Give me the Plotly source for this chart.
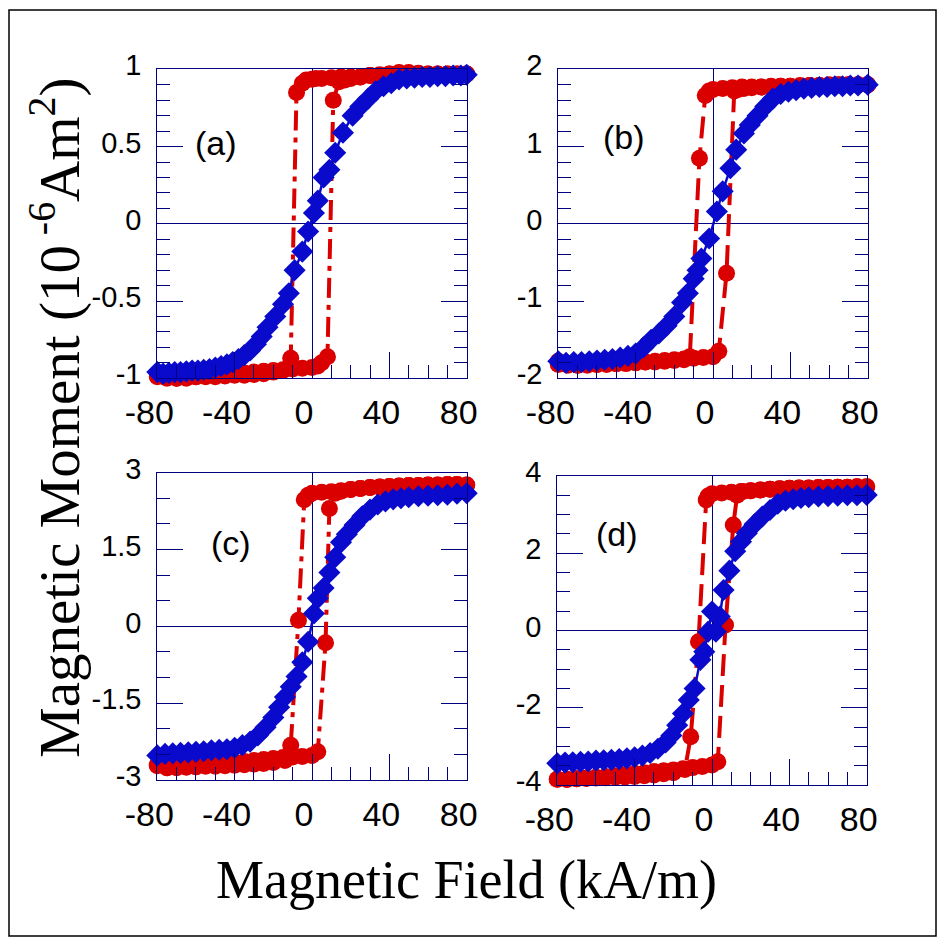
import plotly.graph_objects as go

# ---------------- data (kA/m, 1e-6 A m^2) ----------------
# panel (a)
a_red_desc_x = [80, 75, 70, 65, 60, 55, 50, 45, 40, 35, 30, 25, 20, 15, 10, 5, 2, 0, -3, -5, -8, -11, -15, -20, -25, -30, -35, -40, -45, -50, -55, -60, -65, -70, -75, -80]
a_red_desc_y = [0.97, 0.97, 0.97, 0.97, 0.97, 0.97, 0.975, 0.98, 0.97, 0.96, 0.96, 0.95, 0.95, 0.95, 0.945, 0.94, 0.94, 0.935, 0.93, 0.91, 0.85, -0.87, -0.95, -0.96, -0.97, -0.975, -0.98, -0.98, -0.985, -0.99, -0.99, -0.99, -0.995, -1.0, -1.0, -0.99]
a_red_asc_x = [-80, -75, -70, -65, -60, -55, -50, -45, -40, -35, -30, -25, -20, -15, -10, -5, 0, 3, 5, 8, 11, 14, 17, 20, 25, 30, 35, 40, 45, 50, 55, 60, 65, 70, 75, 80]
a_red_asc_y = [-0.97, -0.99, -1.0, -1.0, -0.99, -0.985, -0.98, -0.975, -0.97, -0.965, -0.96, -0.955, -0.95, -0.945, -0.94, -0.935, -0.93, -0.92, -0.9, -0.86, 0.8, 0.92, 0.93, 0.94, 0.95, 0.96, 0.965, 0.97, 0.975, 0.98, 0.975, 0.97, 0.97, 0.97, 0.97, 0.97]
a_blue_x = [-80, -77, -74, -71, -68, -65, -62, -59, -56, -53, -50, -47, -44, -41, -38, -35, -32, -29, -26, -23, -19, -15, -12, -9, -5, -2, 1, 3, 6, 9, 12, 16, 21, 25, 29, 33, 37, 41, 45, 49, 53, 57, 61, 65, 69, 73, 77, 80]
a_blue_y = [-0.96, -0.97, -0.965, -0.96, -0.96, -0.955, -0.95, -0.95, -0.945, -0.94, -0.93, -0.92, -0.91, -0.895, -0.875, -0.85, -0.82, -0.78, -0.73, -0.67, -0.6, -0.52, -0.45, -0.3, -0.18, -0.05, 0.07, 0.15, 0.3, 0.35, 0.46, 0.59, 0.7, 0.76, 0.81, 0.86, 0.89, 0.91, 0.935, 0.94, 0.945, 0.95, 0.95, 0.955, 0.955, 0.96, 0.96, 0.965]

# panel (b)
b_red_desc_x = [80, 75, 70, 65, 60, 55, 50, 45, 40, 35, 30, 25, 20, 15, 10, 5, 0, -2, -4, -7, -12, -15, -20, -25, -30, -35, -40, -45, -50, -55, -60, -65, -70, -75, -80]
b_red_desc_y = [1.8, 1.8, 1.8, 1.8, 1.79, 1.79, 1.79, 1.78, 1.78, 1.78, 1.78, 1.77, 1.77, 1.77, 1.76, 1.75, 1.74, 1.72, 1.66, 0.85, -1.72, -1.76, -1.77, -1.78, -1.79, -1.79, -1.8, -1.8, -1.81, -1.81, -1.82, -1.82, -1.83, -1.83, -1.82]
b_red_asc_x = [-80, -75, -70, -65, -60, -55, -50, -45, -40, -35, -30, -25, -20, -15, -10, -5, 0, 3, 7, 11, 13, 16, 20, 25, 30, 35, 40, 45, 50, 55, 60, 65, 70, 75, 80]
b_red_asc_y = [-1.78, -1.82, -1.83, -1.83, -1.82, -1.82, -1.81, -1.81, -1.8, -1.79, -1.78, -1.77, -1.76, -1.75, -1.74, -1.73, -1.72, -1.65, -0.64, 1.72, 1.74, 1.75, 1.76, 1.77, 1.77, 1.78, 1.78, 1.79, 1.79, 1.79, 1.8, 1.8, 1.8, 1.8, 1.8]
b_blue_x = [-80, -76, -72, -68, -64, -60, -56, -52, -48, -44, -40, -36, -32, -28, -24, -20, -16, -13, -10, -8, -6, -2, 2, 5, 9, 12, 16, 19, 23, 27, 31, 35, 39, 43, 47, 51, 55, 59, 63, 67, 71, 75, 80]
b_blue_y = [-1.78, -1.8, -1.79, -1.79, -1.78, -1.77, -1.76, -1.75, -1.73, -1.71, -1.68, -1.6, -1.5, -1.42, -1.32, -1.2, -1.02, -0.9, -0.71, -0.6, -0.45, -0.19, 0.16, 0.42, 0.72, 0.96, 1.17, 1.28, 1.4, 1.52, 1.62, 1.68, 1.71, 1.73, 1.75, 1.76, 1.77, 1.77, 1.78, 1.78, 1.79, 1.79, 1.8]

# panel (c)
c_red_desc_x = [80, 75, 70, 65, 60, 55, 50, 45, 40, 35, 30, 25, 20, 15, 10, 5, 0, -2, -4, -7, -11, -14, -20, -25, -30, -35, -40, -45, -50, -55, -60, -65, -70, -75, -80]
c_red_desc_y = [2.76, 2.77, 2.77, 2.76, 2.76, 2.75, 2.75, 2.74, 2.73, 2.72, 2.71, 2.69, 2.67, 2.65, 2.63, 2.62, 2.6, 2.56, 2.47, 0.12, -2.32, -2.62, -2.66, -2.68, -2.69, -2.7, -2.71, -2.72, -2.73, -2.73, -2.74, -2.74, -2.75, -2.76, -2.72]
c_red_asc_x = [-80, -75, -70, -65, -60, -55, -50, -45, -40, -35, -30, -25, -20, -15, -10, -5, 0, 3, 7, 9, 12, 15, 20, 25, 30, 35, 40, 45, 50, 55, 60, 65, 70, 75, 80]
c_red_asc_y = [-2.7, -2.76, -2.76, -2.75, -2.74, -2.72, -2.7, -2.68, -2.66, -2.64, -2.62, -2.6, -2.58, -2.56, -2.55, -2.54, -2.52, -2.45, -0.32, 2.3, 2.6, 2.64, 2.67, 2.69, 2.71, 2.72, 2.73, 2.74, 2.75, 2.75, 2.76, 2.76, 2.77, 2.77, 2.76]
c_blue_x = [-80, -76, -72, -68, -64, -60, -56, -52, -48, -44, -40, -36, -32, -28, -24, -20, -17, -14, -11, -8, -5, -2, 1, 3, 6, 9, 12, 15, 18, 22, 26, 30, 34, 38, 42, 46, 50, 55, 60, 65, 70, 75, 80]
c_blue_y = [-2.52, -2.49, -2.48, -2.47, -2.46, -2.45, -2.44, -2.42, -2.41, -2.4, -2.37, -2.32, -2.25, -2.13, -1.97, -1.78, -1.58, -1.38, -1.18, -0.98, -0.7, -0.3, 0.25, 0.55, 0.75, 1.05, 1.35, 1.64, 1.8, 1.98, 2.15, 2.28, 2.38, 2.44, 2.48, 2.5, 2.52, 2.54, 2.55, 2.56, 2.57, 2.59, 2.6]

# panel (d)
d_red_desc_x = [80, 75, 70, 65, 60, 55, 50, 45, 40, 35, 30, 25, 20, 15, 10, 5, 0, -2, -3, -7, -11, -14, -20, -25, -30, -35, -40, -45, -50, -55, -60, -65, -70, -75, -80]
d_red_desc_y = [3.72, 3.72, 3.71, 3.71, 3.7, 3.7, 3.69, 3.69, 3.68, 3.67, 3.66, 3.64, 3.62, 3.6, 3.58, 3.56, 3.54, 3.48, 3.38, -0.29, -2.75, -3.6, -3.68, -3.71, -3.74, -3.76, -3.78, -3.79, -3.8, -3.81, -3.82, -3.83, -3.84, -3.85, -3.85]
d_red_asc_x = [-80, -75, -70, -65, -60, -55, -50, -45, -40, -35, -30, -25, -20, -15, -10, -5, 0, 3, 7, 11, 13, 16, 20, 25, 30, 35, 40, 45, 50, 55, 60, 65, 70, 75, 80]
d_red_asc_y = [-3.85, -3.86, -3.84, -3.82, -3.8, -3.78, -3.76, -3.73, -3.7, -3.68, -3.65, -3.63, -3.61, -3.58, -3.55, -3.52, -3.48, -3.4, 0.14, 2.73, 3.5, 3.6, 3.62, 3.64, 3.66, 3.67, 3.68, 3.69, 3.69, 3.7, 3.7, 3.71, 3.71, 3.72, 3.72]
d_blue_x = [-80, -76, -72, -68, -64, -60, -56, -52, -48, -44, -40, -36, -32, -28, -24, -21, -18, -15, -12, -9, -6, -4, -2, 0, 2, 4, 6, 9, 12, 15, 18, 22, 26, 30, 34, 38, 42, 46, 50, 55, 60, 65, 70, 75, 80]
d_blue_y = [-3.44, -3.42, -3.41, -3.4, -3.39, -3.37, -3.36, -3.35, -3.33, -3.31, -3.28, -3.24, -3.17, -3.06, -2.9, -2.72, -2.45, -2.15, -1.8, -1.5, -0.76, -0.55, -0.03, 0.49, -0.03, 0.36, 1.05, 1.55, 2.05, 2.3, 2.52, 2.75, 2.95, 3.12, 3.28, 3.36, 3.4, 3.43, 3.45, 3.47, 3.48, 3.49, 3.5, 3.5, 3.51]

x_tickvals = [-80, -40, 0, 40, 80]
x_ticktext = ["-80", "-40", "0", "40", "80"]

a_y_tickvals = [-1, -0.5, 0, 0.5, 1]
a_y_ticktext = ["-1", "-0.5", "0", "0.5", "1"]
b_y_tickvals = [-2, -1, 0, 1, 2]
b_y_ticktext = ["-2", "-1", "0", "1", "2"]
c_y_tickvals = [-3, -1.5, 0, 1.5, 3]
c_y_ticktext = ["-3", "-1.5", "0", "1.5", "3"]
d_y_tickvals = [-4, -2, 0, 2, 4]
d_y_ticktext = ["-4", "-2", "0", "2", "4"]

panel_labels = ["(a)", "(b)", "(c)", "(d)"]

# ---------------- styling ----------------
RED = "#DA0000"
BLUE = "#0A0ACC"
NAVY = "#000080"
W = H = 945
OFF = 8  # page body margin of the browser


def fx(sx):
    return (sx - OFF) / W


def fy(sy):
    return 1 - (sy - OFF) / H


panels = [
    dict(rx=(a_red_desc_x, a_red_asc_x), ry=(a_red_desc_y, a_red_asc_y), bx=a_blue_x, by=a_blue_y,
         yr=1, yt=a_y_tickvals, ytt=a_y_ticktext, ymin=0.1, dash="20px,7px,5px,7px",
         xd=(157.3, 466.7), yd=(69.3, 378.3), lab=(-49.5, 0.52)),
    dict(rx=(b_red_desc_x, b_red_asc_x), ry=(b_red_desc_y, b_red_asc_y), bx=b_blue_x, by=b_blue_y,
         yr=2, yt=b_y_tickvals, ytt=b_y_ticktext, ymin=0.2, dash="22px,9px",
         xd=(558.3, 867.7), yd=(69.3, 378.3), lab=(-46, 1.12)),
    dict(rx=(c_red_desc_x, c_red_asc_x), ry=(c_red_desc_y, c_red_asc_y), bx=c_blue_x, by=c_blue_y,
         yr=3, yt=c_y_tickvals, ytt=c_y_ticktext, ymin=0.5, dash="20px,7px,5px,7px",
         xd=(157.3, 466.7), yd=(472.7, 780.0), lab=(-42, 1.62)),
    dict(rx=(d_red_desc_x, d_red_asc_x), ry=(d_red_desc_y, d_red_asc_y), bx=d_blue_x, by=d_blue_y,
         yr=4, yt=d_y_tickvals, ytt=d_y_ticktext, ymin=0.5, dash="22px,9px",
         xd=(557.3, 866.7), yd=(476.0, 785.0), lab=(-49, 2.5)),
]

fig = go.Figure()
sans = "Liberation Sans, Arial, sans-serif"

for i, p in enumerate(panels):
    n = "" if i == 0 else str(i + 1)
    xa, ya = "x" + n, "y" + n
    for rx, ry in zip(p["rx"], p["ry"]):
        fig.add_trace(go.Scatter(
            x=rx, y=ry, xaxis=xa, yaxis=ya, mode="lines+markers", cliponaxis=False,
            line=dict(color=RED, width=4, dash=p["dash"]),
            marker=dict(symbol="circle", size=17, color=RED, line=dict(width=0)),
            showlegend=False, hoverinfo="skip"))
    fig.add_trace(go.Scatter(
        x=p["bx"], y=p["by"], xaxis=xa, yaxis=ya, mode="lines+markers", cliponaxis=False,
        line=dict(color=BLUE, width=2.5),
        marker=dict(symbol="diamond", size=17, color=BLUE, line=dict(width=0)),
        showlegend=False, hoverinfo="skip"))

    common = dict(showline=True, linecolor=NAVY, linewidth=1,
                  ticks="inside", ticklen=26, tickwidth=1, tickcolor=NAVY,
                  showgrid=False, zeroline=True, zerolinecolor=NAVY, zerolinewidth=1,
                  tickmode="array", fixedrange=True, automargin=False)
    xdom = [fx(p["xd"][0]), fx(p["xd"][1])]
    fig.layout["xaxis" + n] = dict(
        common, mirror=True, domain=xdom, anchor=ya, range=[-80, 80],
        tickvals=x_tickvals, ticktext=x_ticktext, ticklabelstandoff=4, ticklabelshift=-8,
        tickfont=dict(family=sans, size=34, color="black"),
        minor=dict(ticks="inside", ticklen=13, tickwidth=1, tickcolor=NAVY, dtick=10, tick0=0, showgrid=False))
    # short ticks along the top edge
    fig.layout["xaxis" + str(i + 5)] = dict(
        overlaying=xa, anchor=ya, side="top", range=[-80, 80], domain=xdom,
        showline=False, showgrid=False, zeroline=False, showticklabels=False,
        ticks="inside", ticklen=13, tickwidth=1, tickcolor=NAVY, tickmode="linear", tick0=0, dtick=10,
        fixedrange=True, automargin=False)
    fig.layout["yaxis" + n] = dict(
        common, mirror="ticks", domain=[fy(p["yd"][1]), fy(p["yd"][0])], anchor=xa, range=[-p["yr"], p["yr"]],
        tickvals=p["yt"], ticktext=p["ytt"], ticklabelstandoff=9, ticklabelshift=-4,
        tickfont=dict(family=sans, size=29, color="black"),
        minor=dict(ticks="inside", ticklen=13, tickwidth=1, tickcolor=NAVY, dtick=p["ymin"], tick0=0, showgrid=False))
    fig.add_annotation(x=p["lab"][0], y=p["lab"][1], xref=xa, yref=ya, text=panel_labels[i],
                       showarrow=False, xanchor="center", yanchor="middle",
                       font=dict(family=sans, size=34, color="black"))

serif = "Liberation Serif, Times New Roman, serif"
fig.add_annotation(x=fx(55), y=fy(418), xref="paper", yref="paper", textangle=-90,
                   xanchor="center", yanchor="middle",
                   text="Magnetic Moment (10<sup> -6</sup>Am<sup>2</sup>)", showarrow=False,
                   font=dict(family=serif, size=57, color="black"))
fig.add_annotation(x=fx(466), y=fy(880), xref="paper", yref="paper",
                   xanchor="center", yanchor="middle",
                   text="Magnetic Field (kA/m)", showarrow=False,
                   font=dict(family=serif, size=54, color="black"))

fig.add_shape(type="rect", xref="paper", yref="paper", x0=fx(9), x1=fx(936), y0=fy(936), y1=fy(10),
              line=dict(color="black", width=1.5))

fig.update_layout(width=W, height=H, margin=dict(l=0, r=0, t=0, b=0, autoexpand=False),
                  paper_bgcolor="white", plot_bgcolor="white", showlegend=False)

fig.write_html("out.html")
